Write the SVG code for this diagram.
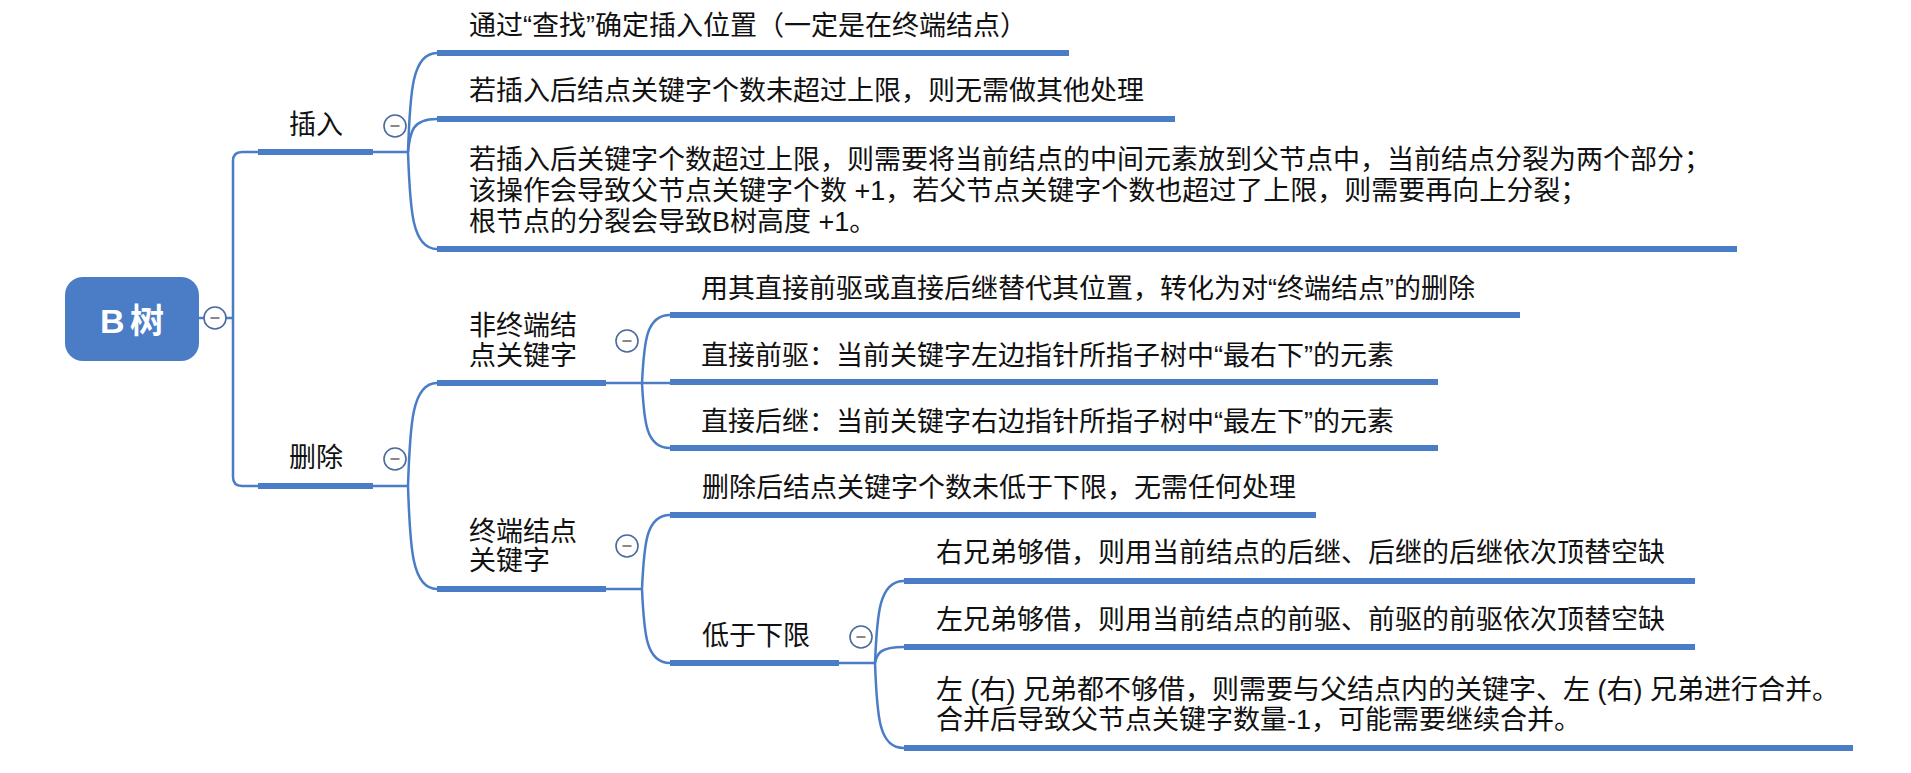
<svg xmlns="http://www.w3.org/2000/svg" width="1911" height="773" viewBox="0 0 1911 773">
<style>
.t{font-family:"Liberation Sans","Noto Sans CJK SC",sans-serif;font-size:27px;fill:#111}
.ul{stroke:#4a7dc6;stroke-width:6;fill:none}
.cn{stroke:#4a7dc6;stroke-width:2.5;fill:none}
.cb circle{fill:#fff;stroke:#4a6a9c;stroke-width:1.6}
.cb line{stroke:#888;stroke-width:2}
</style>
<defs>
<g id="col" class="cb"><circle r="11"/><line x1="-4.5" y1="0" x2="4.5" y2="0"/></g>
</defs>
<rect width="1911" height="773" fill="#fff"/>
<g id="connectors">
<path class="cn" d="M199 318 H233"/>
<path class="cn" d="M258 152 H242 Q233 152 233 161 V477 Q233 486 242 486 H258"/>
<path class="cn" d="M373 152 H408"/>
<path class="cn" d="M408 152 C410 92 412 53 437 53"/>
<path class="cn" d="M408 152 C410 132 412 119 437 119"/>
<path class="cn" d="M408 152 C410 210 412 249 437 249"/>
<path class="cn" d="M373 486 H408"/>
<path class="cn" d="M408 486 C410 424 412 383 437 383"/>
<path class="cn" d="M408 486 C410 548 412 589 437 589"/>
<path class="cn" d="M606 383 H642"/>
<path class="cn" d="M642 383 C644 342 646 315 670 315"/>
<path class="cn" d="M642 383 H670"/>
<path class="cn" d="M642 383 C644 422 646 448 670 448"/>
<path class="cn" d="M606 589 H642"/>
<path class="cn" d="M642 589 C644 544 646 515 670 515"/>
<path class="cn" d="M642 589 C644 634 646 663 670 663"/>
<path class="cn" d="M839 663 H875"/>
<path class="cn" d="M875 663 C877 614 879 581 904 581"/>
<path class="cn" d="M875 663 C877 654 879 647 904 647"/>
<path class="cn" d="M875 663 C877 718 879 748 904 748"/>
</g>
<g id="root">
<rect x="65" y="277" width="134" height="84" rx="18" fill="#4a7dc6"/>
<text x="132" y="333" text-anchor="middle" word-spacing="-4" style="font-family:'Liberation Sans','Noto Sans CJK SC',sans-serif;font-size:34px;font-weight:bold;fill:#fff">B 树</text>
<use href="#col" x="215" y="318"/>
</g>
<g id="insert">
<line class="ul" x1="258" y1="152" x2="373" y2="152"/>
<text class="t" x="289" y="134">插入</text>
<use href="#col" x="395" y="126"/>
</g>
<g id="ins1">
<line class="ul" x1="437" y1="53" x2="1069" y2="53"/>
<text class="t" x="469" y="35">通过“查找”确定插入位置（一定是在终端结点）</text>
</g>
<g id="ins2">
<line class="ul" x1="437" y1="119" x2="1175" y2="119"/>
<text class="t" x="469" y="100">若插入后结点关键字个数未超过上限，则无需做其他处理</text>
</g>
<g id="ins3">
<line class="ul" x1="437" y1="249" x2="1737" y2="249"/>
<text class="t" x="469" y="169">若插入后关键字个数超过上限，则需要将当前结点的中间元素放到父节点中，当前结点分裂为两个部分；</text>
<text class="t" x="469" y="200">该操作会导致父节点关键字个数 +1，若父节点关键字个数也超过了上限，则需要再向上分裂；</text>
<text class="t" x="469" y="231">根节点的分裂会导致B树高度 +1。</text>
</g>
<g id="delete">
<line class="ul" x1="258" y1="486" x2="373" y2="486"/>
<text class="t" x="289" y="467">删除</text>
<use href="#col" x="395" y="459"/>
</g>
<g id="nonleaf">
<line class="ul" x1="437" y1="383" x2="606" y2="383"/>
<text class="t" x="469" y="335">非终端结</text>
<text class="t" x="469" y="365">点关键字</text>
<use href="#col" x="627" y="341"/>
</g>
<g id="nl1">
<line class="ul" x1="670" y1="315" x2="1520" y2="315"/>
<text class="t" x="701" y="298">用其直接前驱或直接后继替代其位置，转化为对“终端结点”的删除</text>
</g>
<g id="nl2">
<line class="ul" x1="670" y1="382" x2="1438" y2="382"/>
<text class="t" x="701" y="365">直接前驱：当前关键字左边指针所指子树中“最右下”的元素</text>
</g>
<g id="nl3">
<line class="ul" x1="670" y1="448" x2="1438" y2="448"/>
<text class="t" x="701" y="431">直接后继：当前关键字右边指针所指子树中“最左下”的元素</text>
</g>
<g id="leaf">
<line class="ul" x1="437" y1="589" x2="606" y2="589"/>
<text class="t" x="469" y="541">终端结点</text>
<text class="t" x="469" y="570">关键字</text>
<use href="#col" x="627" y="546"/>
</g>
<g id="lf1">
<line class="ul" x1="670" y1="515" x2="1316" y2="515"/>
<text class="t" x="702" y="497">删除后结点关键字个数未低于下限，无需任何处理</text>
</g>
<g id="lf2">
<line class="ul" x1="670" y1="663" x2="839" y2="663"/>
<text class="t" x="702" y="645">低于下限</text>
<use href="#col" x="861" y="637"/>
</g>
<g id="lo1">
<line class="ul" x1="904" y1="581" x2="1695" y2="581"/>
<text class="t" x="936" y="562">右兄弟够借，则用当前结点的后继、后继的后继依次顶替空缺</text>
</g>
<g id="lo2">
<line class="ul" x1="904" y1="647" x2="1695" y2="647"/>
<text class="t" x="936" y="629">左兄弟够借，则用当前结点的前驱、前驱的前驱依次顶替空缺</text>
</g>
<g id="lo3">
<line class="ul" x1="904" y1="748" x2="1853" y2="748"/>
<text class="t" x="936" y="699">左 (右) 兄弟都不够借，则需要与父结点内的关键字、左 (右) 兄弟进行合并。</text>
<text class="t" x="936" y="729">合并后导致父节点关键字数量-1，可能需要继续合并。</text>
</g>
</svg>
